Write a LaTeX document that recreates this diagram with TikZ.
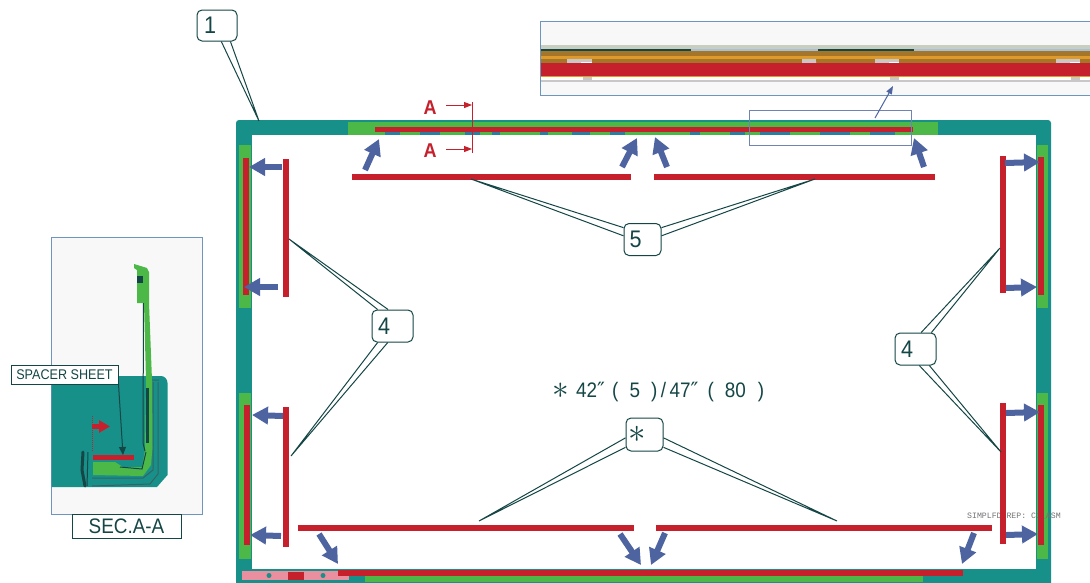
\documentclass[tikz,border=0pt]{standalone}
\usepackage{fontspec}
\setmainfont[FakeStretch=0.9]{Liberation Sans}
\newfontfamily\symf{DejaVu Sans}
\newfontfamily\monof{Liberation Mono}
\usetikzlibrary{arrows.meta}
\definecolor{teal1}{HTML}{18908A}
\definecolor{green1}{HTML}{4CB848}
\definecolor{red1}{HTML}{C5202C}
\definecolor{blue1}{HTML}{4D64A0}
\definecolor{ink}{HTML}{154646}
\definecolor{pale}{HTML}{F8F8F8}
\definecolor{edge}{HTML}{6E96BC}
\definecolor{brown1}{HTML}{A5752A}
\definecolor{orange1}{HTML}{E09A2A}
\definecolor{pink1}{HTML}{E98FA0}
\definecolor{band}{HTML}{C8CFC0}
\definecolor{speck}{HTML}{2A7FA0}
\definecolor{gap}{HTML}{C8C8C8}
\tikzset{
  callbox/.style={draw=ink,line width=1pt,fill=white,rounded corners=5pt,inner sep=0pt,text=ink,font=\fontsize{24}{24}\selectfont},
  leader/.style={draw=ink,line width=1pt},
  pusharrow/.style={draw=blue1,line width=6pt,-{Triangle[length=16pt,width=17pt]}},
  redbar/.style={fill=red1},
  greenpad/.style={fill=green1},
  redthin/.style={draw=red1,line width=1pt},
  redtip/.style={redthin,-{Triangle[length=8pt,width=6pt]}},
  sheetbox/.style={draw=ink,line width=1pt,fill=white,text=ink,inner sep=0pt},
  marklabel/.style={text=red1,font=\bfseries\fontsize{20}{20}\selectfont}
}
\begin{document}
\begin{tikzpicture}[x=1pt,y=-1pt]
\useasboundingbox (0,0) rectangle (1090,582);
\fill[white] (0,0) rectangle (1090,582);
\path[clip] (0,0) rectangle (1090,582);
% ---- frame
\fill[teal1,rounded corners=3pt] (236,120) rectangle (1051,590);
\fill[white] (252,135) rectangle (1036,568.5);
\fill[greenpad] (348,122) rectangle (938,134.5);
\fill[greenpad] (239,145) rectangle (251,308);
\fill[greenpad] (239,393) rectangle (251,559);
\fill[greenpad] (1037,145) rectangle (1048,308);
\fill[greenpad] (1037,393) rectangle (1048,559);
\fill[greenpad] (365,576) rectangle (923,582);
\foreach \a/\b in {385/400,420/440,465/480,492/500,540/548,572/590,610/625,690/700,730/745,760/790,820/850,870/895}
  \fill[speck] (\a,132) rectangle (\b,134.5);
\fill[pink1] (242,571) rectangle (349,580);
\fill[red1] (288,572) rectangle (304,580);
\foreach \x in {269,323} \fill[teal1] (\x,575.5) circle (2.5);
% ---- model note under the sheets
\node[text=black!55,font=\monof\fontsize{8.2}{8.2}\selectfont,anchor=west,inner sep=0pt] (simp) at (967,516) {SIMPLFD REP: C1\_ASM};
\fill[redbar] (375,127) rectangle (913,132);
\fill[redbar] (243,158) rectangle (249,295);
\fill[redbar] (244,405) rectangle (250,545);
\fill[redbar] (1038,157) rectangle (1044,295);
\fill[redbar] (1038,405) rectangle (1044,545);
\fill[redbar] (338,569.5) rectangle (963,576);
% ---- loose sheets
\fill[redbar] (352,174) rectangle (631,179.5);
\fill[redbar] (654,174) rectangle (935,179.5);
\fill[redbar] (283,159) rectangle (288.5,297);
\fill[redbar] (283,407) rectangle (288.5,547);
\fill[redbar] (1000,156) rectangle (1006,293);
\fill[redbar] (1000,403) rectangle (1006,544);
\fill[redbar] (298,525) rectangle (634,530.5);
\fill[redbar] (656,525) rectangle (992,530.5);
% ---- push arrows
\coordinate (a1s) at (365,170); \coordinate (a1e) at (379,139);
\coordinate (a2s) at (622,167); \coordinate (a2e) at (637,138);
\coordinate (a3s) at (667,167); \coordinate (a3e) at (655,137);
\coordinate (a4s) at (924,167); \coordinate (a4e) at (914,138);
\coordinate (a5s) at (282,167); \coordinate (a5e) at (249,167);
\coordinate (a6s) at (278,287); \coordinate (a6e) at (244,287);
\coordinate (a7s) at (283,416); \coordinate (a7e) at (252,415);
\coordinate (a8s) at (281,536); \coordinate (a8e) at (250,535);
\coordinate (a9s) at (1005,163); \coordinate (a9e) at (1040,162);
\coordinate (a10s) at (1006,288); \coordinate (a10e) at (1037,287);
\coordinate (a11s) at (1006,413); \coordinate (a11e) at (1040,412);
\coordinate (a12s) at (1006,535); \coordinate (a12e) at (1038,534);
\coordinate (a13s) at (319,534); \coordinate (a13e) at (338,564);
\coordinate (a14s) at (620,534); \coordinate (a14e) at (641,565);
\coordinate (a15s) at (665,533); \coordinate (a15e) at (651,565);
\coordinate (a16s) at (974,533); \coordinate (a16e) at (962,564);
\foreach \n in {1,...,16} \draw[pusharrow] (a\n s) -- (a\n e);
% ---- section marks
\node[marklabel] (markA) at (430,108) {A};
\node[marklabel] (markB) at (430,151) {A};
\coordinate (cutT) at (472,102); \coordinate (cutB) at (472,153);
\coordinate (cutA) at (472,105); \coordinate (cutC) at (472,149);
\coordinate (tailA) at (446,105); \coordinate (tailC) at (446,149);
\draw[redthin] (cutT) -- (cutB);
\draw[redtip] (tailA) -- (cutA);
\draw[redtip] (tailC) -- (cutC);
% ---- detail view
\node[draw=none,fill=pale,minimum width=550pt,minimum height=74pt,inner sep=0pt,anchor=north west] (detail) at (540,21) {};
\fill[band] (541,45) rectangle (1090,48.5);
\fill[edge!60] (541,48.5) rectangle (1090,50.5);
\fill[ink] (541,48.5) rectangle (691,50.5);
\fill[ink] (818,48.5) rectangle (914,50.5);
\fill[brown1] (541,50.5) rectangle (1090,56);
\fill[orange1] (541,56) rectangle (1090,59);
\fill[brown1] (541,59) rectangle (1090,63);
\foreach \a/\b in {567/592,802/816,875/899,1056/1080}{
  \fill[gap] (\a,59) rectangle (\b,63);
  \fill[white] (\a+14,61.5) rectangle (\b,63);
}
\fill[redbar] (540,63) rectangle (1090,76);
\fill[orange1] (541,76) rectangle (1090,77);
\fill[white] (541,77) rectangle (1090,80);
\foreach \a/\b in {567/592,875/899,1056/1080}{
  \fill[gap] (\b-9,77) rectangle (\b,79.5);
}
\fill[gap] (541,80) rectangle (1090,82);
\draw[edge,line width=1pt] (1090,21) -| (540,95) -- (1090,95);
\node[draw=blue1!80,line width=1pt,minimum width=162pt,minimum height=35pt,inner sep=0pt,anchor=north west] (zoomrect) at (749,110) {};
\coordinate (zoomfoot) at (875,118);
\coordinate (zoomtip) at (893,86);
\draw[blue1,line width=1pt,-{Triangle[length=8pt,width=6pt]}] (zoomfoot) -- (zoomtip);
% ---- callouts
\node[callbox,minimum width=40pt,minimum height=31pt] (c1) at (217,25.5) {\makebox[40pt][l]{\hspace{7pt}1}};
\node[callbox,minimum width=37pt,minimum height=32pt] (c5) at (642.5,239.5) {\makebox[37pt][l]{\hspace{5.5pt}5}};
\node[callbox,minimum width=41pt,minimum height=32pt] (c4l) at (392.5,326) {\makebox[41pt][l]{\hspace{6pt}4}};
\node[callbox,minimum width=41pt,minimum height=32pt] (c4r) at (915.5,349) {\makebox[41pt][l]{\hspace{6pt}4}};
\node[callbox,minimum width=37pt,minimum height=33pt] (cs) at (644.5,434.5) {\makebox[37pt][l]{\hspace{2.6pt}\scalebox{1.4}{$\ast$}}};
\coordinate (t1) at (259,121);
\coordinate (t5l) at (471,179); \coordinate (t5r) at (815,179);
\coordinate (t4a) at (289,239); \coordinate (t4b) at (291,456);
\coordinate (t4c) at (1000,248); \coordinate (t4d) at (1001,452);
\coordinate (tsl) at (479,521); \coordinate (tsr) at (837,521);
\draw[leader] (c1.-75.5) -- (t1) -- (c1.-50);
\draw[leader] (c5.148) -- (t5l) -- (c5.169);
\draw[leader] (c5.32) -- (t5r) -- (c5.11);
\draw[leader] (c4l.105.7) -- (t4a) -- (c4l.132);
\draw[leader] (c4l.-106) -- (t4b) -- (c4l.-132);
\draw[leader] (c4r.71) -- (t4c) -- (c4r.46);
\draw[leader] (c4r.-77.7) -- (t4d) -- (c4r.-50);
\draw[leader] (cs.190.7) -- (tsl) -- (cs.214);
\draw[leader] (cs.-10.7) -- (tsr) -- (cs.-34);
% ---- size note
\node[text=ink,font=\fontsize{21}{21}\selectfont,anchor=west,inner sep=0pt] (note) at (552,392)
 {\makebox[24pt][l]{\raisebox{-1pt}{\scalebox{1.6}{$\ast$}}}42\makebox[15pt][l]{\symf ″}(\hspace{11pt}5\hspace{11pt})\,/\,47\makebox[17pt][l]{\symf ″}(\hspace{11pt}80\hspace{12pt})};
% ---- section view
\node[draw=edge,line width=1pt,fill=pale,minimum width=151pt,minimum height=277pt,inner sep=0pt,anchor=north west] (sec) at (51,237) {};
\fill[teal1] (51.5,376) -- (161,376) to[out=0,in=90] (167.5,383) -- (167.5,475) -- (157,487) -- (51.5,487) -- cycle;
% outlines of the parts
\draw[ink!85,line width=1pt] (149,380) -- (159,380) (153,382) -- (153,470) -- (143,478) -- (92,478);
\draw[ink!85,line width=1pt] (158,382) -- (158,474) -- (150,484) -- (92,486);
\draw[ink,line width=3pt,line cap=round] (83,452) -- (82,470) -- (85,486);
\draw[ink,line width=1pt] (88,452) -- (87,486);
\fill[green1] (134,264) -- (147,268) -- (149,272) -- (149,303) -- (137,303) -- (137,270) -- (134,268) -- cycle;
\fill[ink] (137,276) rectangle (143,283);
\fill[green1] (144,303) -- (149,303) -- (152,380) -- (152.5,447) -- (151,465) -- (143,476) -- (93,475) -- (93,462) -- (115,462) -- (123,467) -- (142,467) -- (145,450) -- (146,380) -- cycle;
\draw[ink,line width=1pt] (143.5,303) -- (143,443) -- (145,451);
\fill[ink] (146,388) rectangle (148.5,443);
\draw[ink,line width=1pt] (120,467) -- (142,469) -- (146,452);
\draw[red1,line width=1pt,densely dotted] (92,416) -- (92,452);
\draw[red1,line width=4.5pt,-{Triangle[length=11pt,width=12pt]}] (92,426.5) -- (110,426.5);
\fill[redbar] (93,455) rectangle (134,460);
\node[sheetbox,minimum width=107pt,minimum height=19pt,font=\fontsize{14}{14}\selectfont] (spacer) at (64.5,374.5) {SPACER SHEET};
\coordinate (spacertip) at (123,455);
\draw[ink,line width=1pt,-{Triangle[length=8pt,width=7pt]}] (spacer.-10.6) -- (spacertip);
\node[sheetbox,minimum width=109pt,minimum height=24pt,font=\fontsize{21}{21}\selectfont] (seclabel) at (126.5,526) {SEC.A-A};
\end{tikzpicture}
\end{document}
